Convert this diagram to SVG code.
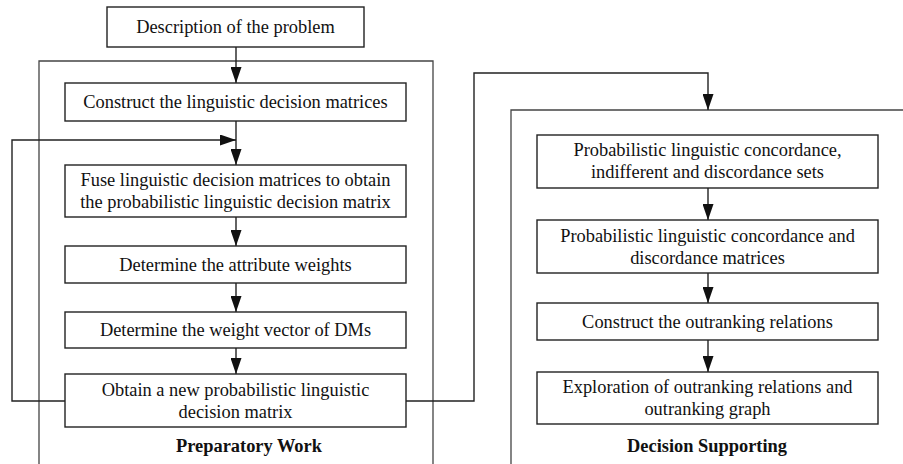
<svg xmlns="http://www.w3.org/2000/svg" width="903" height="464" viewBox="0 0 903 464">
<defs>
<style>
.box{fill:#fff;stroke:#222;stroke-width:1.4}
.frame{fill:none;stroke:#444;stroke-width:1.3}
.edge{fill:none;stroke:#222;stroke-width:1.4}
.t{font-family:"Liberation Serif","Times New Roman",serif;font-size:18.4px;fill:#111;text-anchor:middle}
.lbl{font-family:"Liberation Serif","Times New Roman",serif;font-size:18.4px;font-weight:bold;fill:#111;text-anchor:middle}
</style>
<marker id="arr" markerUnits="userSpaceOnUse" markerWidth="17" markerHeight="11" refX="16" refY="5.5" orient="auto">
<path d="M0,0 L16,5.5 L0,11 z" fill="#111"/>
</marker>
</defs>
<rect width="903" height="464" fill="#fff"/>
<g id="frames">
<path class="frame" d="M39,464 V61 H433 V464"/>
<path class="frame" d="M511,464 V110 H903"/>
<text class="lbl" x="249" y="452">Preparatory Work</text>
<text class="lbl" x="707" y="452">Decision Supporting</text>
</g>
<g id="connectors">
<path class="edge" d="M236,47 V83" marker-end="url(#arr)"/>
<path class="edge" d="M236,121 V165" marker-end="url(#arr)"/>
<path class="edge" d="M236,217 V246" marker-end="url(#arr)"/>
<path class="edge" d="M236,283 V312" marker-end="url(#arr)"/>
<path class="edge" d="M236,348 V374" marker-end="url(#arr)"/>
<path class="edge" d="M65,401 H12 V140 H236" marker-end="url(#arr)"/>
<path class="edge" d="M406,401 H474 V73 H708 V110" marker-end="url(#arr)"/>
<path class="edge" d="M708,188 V220" marker-end="url(#arr)"/>
<path class="edge" d="M708,273 V303" marker-end="url(#arr)"/>
<path class="edge" d="M708,340 V372" marker-end="url(#arr)"/>
</g>
<g id="n-description">
<rect class="box" x="107" y="7" width="257" height="40"/>
<text class="t" x="235.5" y="33">Description of the problem</text>
</g>
<g id="n-construct">
<rect class="box" x="65" y="83" width="341" height="38"/>
<text class="t" x="235.5" y="108">Construct the linguistic decision matrices</text>
</g>
<g id="n-fuse">
<rect class="box" x="65" y="165" width="341" height="52"/>
<text class="t" x="235.5" y="186">Fuse linguistic decision matrices to obtain</text>
<text class="t" x="235.5" y="208">the probabilistic linguistic decision matrix</text>
</g>
<g id="n-attribute">
<rect class="box" x="65" y="246" width="341" height="37"/>
<text class="t" x="235.5" y="270.5">Determine the attribute weights</text>
</g>
<g id="n-dms">
<rect class="box" x="65" y="312" width="341" height="36"/>
<text class="t" x="235.5" y="336">Determine the weight vector of DMs</text>
</g>
<g id="n-obtain">
<rect class="box" x="65" y="374" width="341" height="53"/>
<text class="t" x="235.5" y="395.5">Obtain a new probabilistic linguistic</text>
<text class="t" x="235.5" y="417.5">decision matrix</text>
</g>
<g id="n-sets">
<rect class="box" x="537" y="135" width="341" height="53"/>
<text class="t" x="707.5" y="156">Probabilistic linguistic concordance,</text>
<text class="t" x="707.5" y="178">indifferent and discordance sets</text>
</g>
<g id="n-matrices">
<rect class="box" x="537" y="220" width="341" height="53"/>
<text class="t" x="707.5" y="241.5">Probabilistic linguistic concordance and</text>
<text class="t" x="707.5" y="263.5">discordance matrices</text>
</g>
<g id="n-relations">
<rect class="box" x="537" y="303" width="341" height="37"/>
<text class="t" x="707.5" y="327.5">Construct the outranking relations</text>
</g>
<g id="n-exploration">
<rect class="box" x="537" y="372" width="341" height="52"/>
<text class="t" x="707.5" y="393">Exploration of outranking relations and</text>
<text class="t" x="707.5" y="415">outranking graph</text>
</g>
</svg>
